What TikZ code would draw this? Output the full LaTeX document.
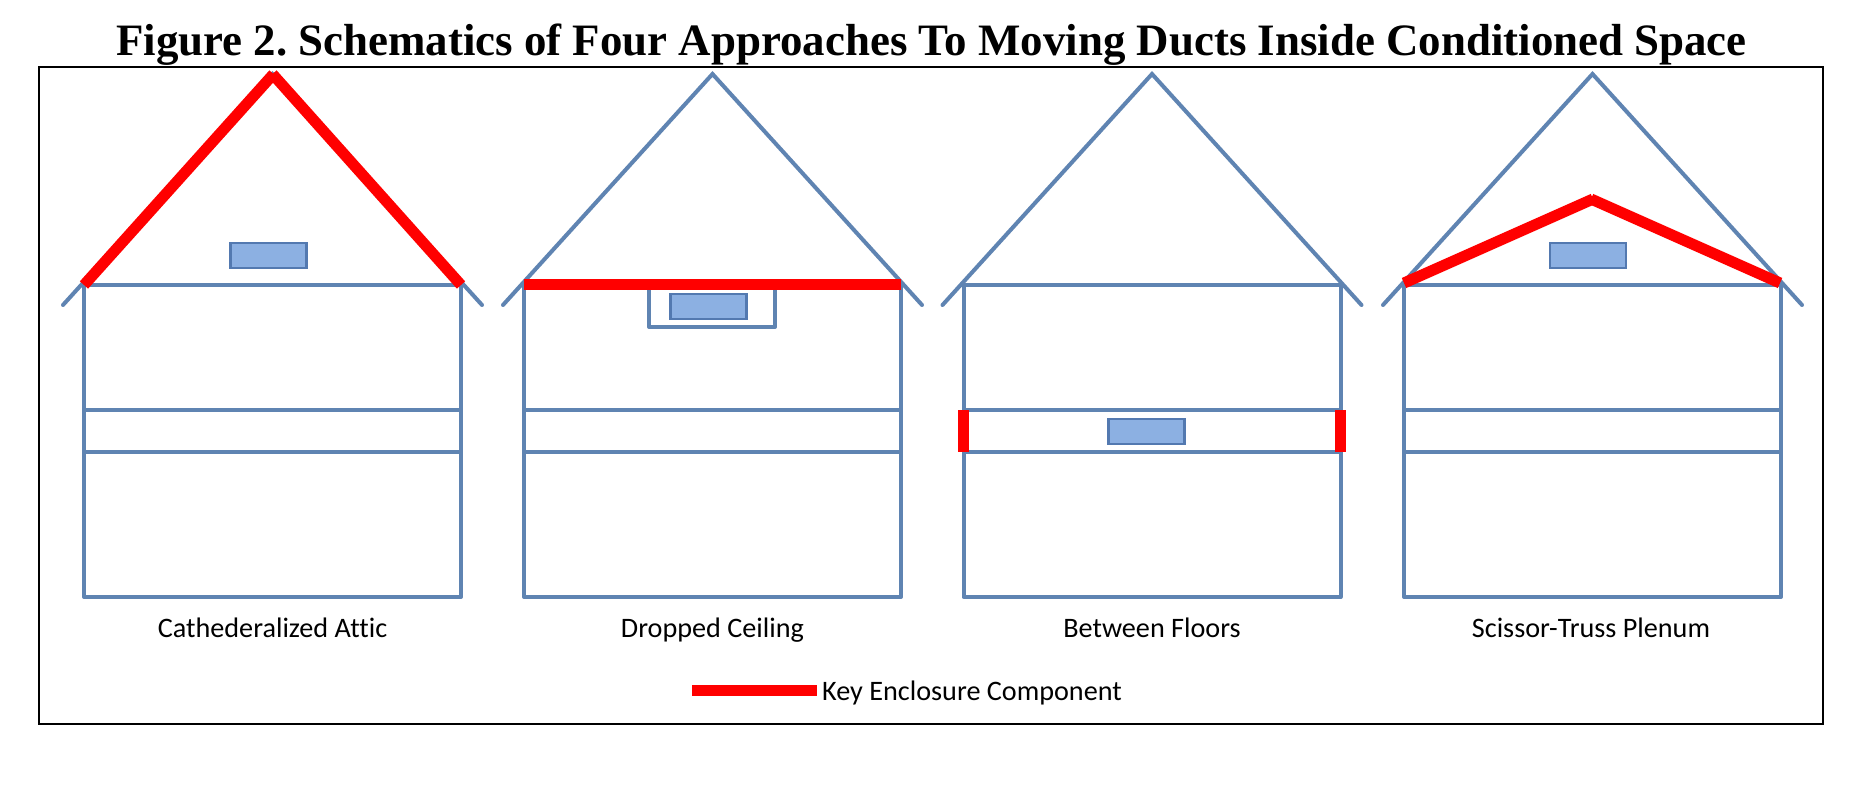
\documentclass[tikz,border=0pt]{standalone}
\usepackage{fontspec}
\setmainfont{Liberation Serif}
\newfontfamily\calib{Carlito}[Ligatures=NoCommon]
\frenchspacing
\definecolor{wall}{HTML}{5F84B2}
\definecolor{ductfill}{HTML}{8CB0E2}
\definecolor{ductline}{HTML}{5379B0}
\definecolor{keyred}{HTML}{FF0000}
\tikzset{
  x=1pt,y=-1pt,
  wallline/.style={draw=wall,line width=4pt},
  thinwall/.style={draw=wall,line width=4pt},
  keyline/.style={draw=keyred,line width=11pt},
  duct/.style={draw=ductline,fill=ductfill,line width=2.6pt,minimum width=76pt,minimum height=25pt,inner sep=0pt,anchor=center},
  caption/.style={font=\calib\fontsize{28.2}{32}\selectfont,text=black,inner sep=0pt,anchor=base},
  pics/house/.style={code={
    \coordinate (-ap) at (188.5,-211);
    \coordinate (-el) at (-21,20);
    \coordinate (-er) at (398,20);
    \coordinate (-tl) at (0,0);
    \coordinate (-tr) at (377,0);
    \coordinate (-bl) at (0,312);
    \coordinate (-br) at (377,312);
    \draw[thinwall,line cap=round] (-el) -- (-ap) -- (-er);
    \draw[wallline,line join=round] (-tl) -- (-bl) -- (-br) -- (-tr) -- cycle;
    \draw[wallline] (0,125) -- (377,125);
    \draw[wallline] (0,167) -- (377,167);
  }}
}
\begin{document}
\begin{tikzpicture}
\useasboundingbox (0,0) rectangle (1862,786);
\fill[white] (0,0) rectangle (1862,786);
\node[font=\bfseries\fontsize{44.9}{50}\selectfont,inner sep=0pt,anchor=base] (title) at (931.5,56) {Figure 2. Schematics of Four Approaches To Moving Ducts Inside Conditioned Space};
\draw[black,line width=2pt] (39,67) rectangle (1823,724);

% House 1
\pic (a) at (84,285) {house};
\draw[keyline] (84,285) -- (273.5,74);
\draw[keyline] (461,285) -- (272.5,74);
\node[duct] (d1) at (268.5,255.5) {};
% House 2
\pic (b) at (524,285) {house};
\draw[thinwall,line join=round] (649,285) -- (649,327) -- (775,327) -- (775,285);
\draw[keyline] (524,284.5) -- (901,284.5);
\node[duct] (d2) at (708.5,306.5) {};
% House 3
\pic (c) at (963.5,285) {house};
\draw[keyline] (963.5,410) -- (963.5,452);
\draw[keyline] (1340.5,410) -- (1340.5,452);
\node[duct] (d3) at (1146.5,431.5) {};
% House 4
\pic (e) at (1404,285) {house};
\draw[keyline] (1404,283) -- (1593,199);
\draw[keyline] (1780,283) -- (1591,199);
\node[duct] (d4) at (1588,255.5) {};

\node[caption] (c1) at (272.5,637) {Cathederalized Attic};
\node[caption] (c2) at (712.5,637) {Dropped Ceiling};
\node[caption] (c3) at (1152,637) {Between Floors};
\node[caption] (c4) at (1591,637) {Scissor-Truss Plenum};

\coordinate (k1) at (692,690);
\coordinate (k2) at (817,690);
\draw[keyline] (k1) -- (k2);
\node[caption,anchor=base west] (key) at (822,700) {Key Enclosure Component};
\end{tikzpicture}
\end{document}
